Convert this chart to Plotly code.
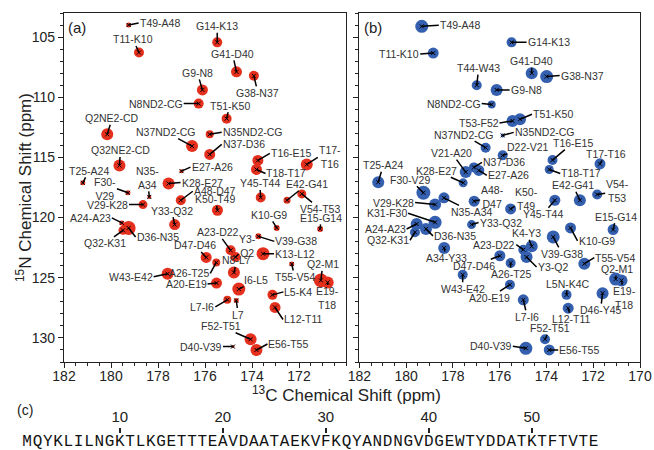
import plotly.graph_objects as go

W, H = 654, 450

# ---------------- data: panel (a) ----------------
a_labels = ["T49-A48", "T11-K10", "G14-K13", "G41-D40", "G38-N37", "G9-N8", "N8ND2-CG", "T51-K50",
            "Q2NE2-CD", "N37ND2-CG", "N35ND2-CG", "N37-D36", "Q32NE2-CD", "T25-A24", "E27-A26",
            "T16-E15", "T18-T17", "T17-<br>T16", "N35-<br>A34", "F30-<br>V29", "K28-E27", "Y45-T44",
            "E42-G41", "A48-D47", "K50-T49", "V54-T53", "V29-K28", "Y33-Q32", "K10-G9", "E15-G14",
            "A24-A23", "D36-N35", "Q32-K31", "A23-D22", "Y3-<br>Q2", "V39-G38", "K13-L12", "D47-D46",
            "N8-L7", "A26-T25", "W43-E42", "A20-E19", "I6-L5", "T55-V54", "Q2-M1", "E19-<br>T18",
            "L5-K4", "L7-I6", "L7", "L12-T11", "F52-T51", "D40-V39", "E56-T55"]
a_c13 = [179.25, 178.81, 175.48, 174.66, 173.92, 176.11, 176.27, 175.08,
         180.16, 176.55, 175.80, 175.80, 179.64, 181.20, 177.00,
         173.75, 173.81, 171.67, 178.37, 179.28, 177.55, 173.63,
         172.51, 177.03, 175.47, 171.88, 178.64, 177.29, 172.95, 171.10,
         179.54, 179.25, 179.49, 174.91, 174.70, 173.73, 173.53, 175.95,
         174.77, 175.52, 177.59, 175.51, 174.56, 172.31, 171.07, 170.78,
         173.13, 175.05, 174.67, 173.02, 174.06, 174.81, 173.81]
a_n15 = [104.00, 106.28, 105.44, 107.89, 108.22, 109.39, 110.53, 111.78,
         113.08, 114.06, 113.08, 114.75, 115.67, 117.11, 116.14,
         115.25, 116.00, 115.58, 118.28, 117.94, 117.17, 118.33,
         118.56, 118.56, 119.39, 118.03, 118.92, 120.58, 120.86, 120.94,
         120.44, 120.86, 121.06, 122.72, 123.28, 121.56, 123.00, 123.31,
         124.56, 123.73, 124.67, 125.44, 125.94, 123.86, 125.22, 125.39,
         126.42, 126.83, 126.89, 127.47, 130.11, 130.72, 131.00]

# ---------------- data: panel (b) ----------------
b_labels = ["T49-A48", "G14-K13", "T11-K10", "G41-D40", "G38-N37", "T44-W43", "G9-N8", "N8ND2-CG",
            "T53-F52", "T51-K50", "N35ND2-CG", "N37ND2-CG", "D22-V21", "T16-E15", "T17-T16",
            "T18-T17", "V21-A20", "N37-D36", "E27-A26", "K28-E27", "T25-A24", "F30-V29", "V29-K28",
            "N35-A34", "A48-<br>D47", "K50-<br>T49", "E42-G41", "Y45-T44", "V54-<br>T53", "K31-F30",
            "Y33-Q32", "E15-G14", "K10-G9", "A24-A23", "Q32-K31", "D36-N35", "K4-Y3", "V39-G38",
            "A23-D22", "A34-Y33", "D47-D46", "A26-T25", "Y3-Q2", "T55-V54", "Q2-M1", "E19-<br>T18",
            "W43-E42", "A20-E19", "L5N-K4C", "D46-Y45", "L7-I6", "L12-T11", "F52-T51", "D40-V39",
            "E56-T55"]
b_c13 = [179.33, 175.49, 178.84, 174.63, 173.99, 176.98, 176.13, 176.34,
         175.45, 175.13, 175.87, 176.60, 175.87, 173.74, 171.71,
         173.88, 177.45, 177.10, 176.89, 177.56, 181.19, 179.26, 178.76,
         178.38, 177.09, 175.53, 172.57, 173.64, 171.83, 178.76,
         177.20, 171.15, 172.97, 179.55, 179.62, 179.15, 174.63, 173.71,
         174.99, 178.37, 175.99, 175.53, 174.85, 172.38, 171.04, 170.79,
         177.58, 175.56, 173.14, 171.60, 174.99, 173.07, 174.06, 174.88,
         173.88]
b_n15 = [104.11, 105.44, 106.33, 108.00, 108.28, 109.00, 109.39, 110.61,
         111.97, 111.83, 113.17, 114.19, 114.83, 115.22, 115.53,
         116.00, 116.22, 115.83, 116.08, 117.11, 117.06, 117.94, 118.92,
         118.36, 118.64, 119.28, 118.56, 118.56, 118.08, 120.39,
         120.58, 121.00, 120.86, 120.53, 121.22, 120.94, 122.39, 121.61,
         122.67, 122.53, 123.17, 123.78, 123.28, 123.83, 125.11, 125.22,
         124.75, 125.58, 126.42, 126.28, 126.83, 127.53, 130.11, 130.86,
         131.00]

# ---------------- data: panel (c) ----------------
sequence = "MQYKLILNGKTLKGETTTEAVDAATAEKVFKQYANDNGVDGEWTYDDATKTFTVTE"
seq_ticks = [10, 20, 30, 40, 50]

c_ticks = [182, 180, 178, 176, 174, 172, 170]
n_ticks = [105, 110, 115, 120, 125, 130]

# ---------------- styles (blob sizes, label offsets px, anchor) ----------------
a_size = [5, 10, 10, 11, 10, 11, 10, 10, 12, 12, 8, 11, 12, 5, 4, 11, 11, 12, 4, 5, 12, 10,
          7, 10, 11, 9, 9, 11, 6, 6, 5, 14, 9, 10, 10, 6, 13, 11, 12, 8, 12, 11, 13, 5, 14, 12,
          10, 8, 5, 11, 12, 3, 12]
a_lab = [(10, -2, "l"), (-6, -13, "c"), (0, -16, "c"), (-4, -18, "c"), (4, 17, "c"), (-5, -17, "c"),
         (-15, 0, "r"), (3, -13, "c"), (5, -16, "c"), (-26, -14, "c"), (12, -2, "l"), (12, -10, "l"),
         (1, -15, "c"), (6, -12, "c"), (9, -4, "l"), (12, -7, "l"), (9, 4, "l"), (11, -7, "l"),
         (-2, -19, "c"), (-11, -4, "r"), (12, -1, "l"), (-1, -14, "c"), (20, -16, "c"), (12, -9, "l"),
         (-2, -11, "c"), (18, 15, "c"), (-14, 0, "r"), (-3, -14, "c"), (-8, -13, "c"), (1, -11, "c"),
         (-10, -5, "r"), (7, 9, "l"), (-18, 13, "c"), (-13, -18, "c"), (12, -11, "c"), (16, 5, "l"),
         (11, 0, "l"), (-11, -12, "c"), (3, -12, "c"), (-6, 11, "r"), (-14, 3, "r"), (-9, 1, "r"),
         (17, -9, "c"), (3, 13, "c"), (2, -16, "c"), (0, 16, "c"), (11, -3, "l"), (-12, 7, "r"),
         (2, 14, "c"), (8, 12, "l"), (-30, -13, "c"), (-10, 0, "r"), (11, -6, "l")]

b_size = [13, 10, 11, 12, 13, 10, 12, 8, 12, 12, 4, 10, 10, 10, 11, 9, 12, 10, 11, 9, 12, 14, 12,
          11, 11, 11, 12, 11, 10, 13, 9, 11, 11, 12, 10, 12, 12, 13, 10, 12, 11, 10, 12, 12, 13, 12,
          10, 10, 10, 12, 11, 11, 10, 13, 11]
b_lab = [(17, -1, "l"), (15, 0, "l"), (-13, 1, "r"), (0, -12, "c"), (13, -1, "l"), (2, -17, "c"),
         (13, 0, "l"), (-10, -1, "r"), (-13, 2, "r"), (12, -5, "l"), (11, -3, "l"), (-22, -13, "c"),
         (25, -8, "c"), (20, -17, "c"), (6, -10, "c"), (11, 4, "l"), (-14, -19, "c"), (8, -5, "l"),
         (8, 5, "l"), (-27, -12, "c"), (5, -17, "c"), (-13, -13, "c"), (-20, -2, "r"), (28, 14, "c"),
         (18, -4, "c"), (16, -10, "c"), (-7, -15, "c"), (-12, 14, "c"), (20, -3, "c"), (-27, -9, "r"),
         (7, -2, "l"), (3, -13, "c"), (7, 13, "l"), (-10, 5, "r"), (-5, 8, "r"), (7, 7, "l"),
         (-5, -13, "c"), (9, 17, "c"), (-7, -5, "r"), (2, 10, "c"), (-26, 10, "c"), (0, 11, "c"),
         (10, 10, "l"), (10, -6, "l"), (1, -10, "c"), (3, 18, "c"), (0, 14, "c"), (-20, 13, "c"),
         (1, -11, "c"), (-2, 17, "c"), (4, 17, "c"), (3, 11, "c"), (5, -11, "c"), (-13, -2, "r"),
         (9, 0, "l")]

RED = "#e4301c"
BLUE = "#3560b0"
FAM = "Liberation Sans, Arial, sans-serif"
LABEL_FONT = dict(family=FAM, size=10.5, color="#333333")
AX_FONT = dict(family=FAM, size=14, color="#222222")

fig = go.Figure()

def add_panel(xa, ya, cs, ns, sizes, color):
    fig.add_trace(go.Scatter(x=cs, y=ns, mode="markers", xaxis=xa, yaxis=ya,
                             marker=dict(size=sizes, color=color, opacity=1, line=dict(width=0)),
                             hoverinfo="skip", showlegend=False))
    fig.add_trace(go.Scatter(x=cs, y=ns, mode="markers", xaxis=xa, yaxis=ya,
                             marker=dict(symbol="x-thin", size=4, line=dict(width=1, color="black")),
                             hoverinfo="skip", showlegend=False))

add_panel("x", "y", a_c13, a_n15, a_size, RED)
add_panel("x2", "y2", b_c13, b_n15, b_size, BLUE)

anchor_map = {"l": "left", "r": "right", "c": "center"}
for labels, cs, ns, labs, xr_, yr_ in [(a_labels, a_c13, a_n15, a_lab, "x", "y"),
                                        (b_labels, b_c13, b_n15, b_lab, "x2", "y2")]:
    for t, c, n, (ax, ay, anc) in zip(labels, cs, ns, labs):
        fig.add_annotation(x=c, y=n, xref=xr_, yref=yr_, text=t, showarrow=True,
                           arrowhead=0, arrowwidth=1.5, arrowcolor="black",
                           ax=ax, ay=ay, xanchor=anchor_map[anc], yanchor="middle",
                           font=LABEL_FONT, borderpad=0, standoff=0)

# sequence as text on its own axis
fig.add_trace(go.Scatter(x=list(range(1, len(sequence) + 1)), y=[0] * len(sequence),
                         mode="text", text=list(sequence), xaxis="x3", yaxis="y3",
                         textfont=dict(family="Liberation Mono, Courier New, monospace", size=16,
                                       color="#111111"),
                         hoverinfo="skip", showlegend=False))

yr = [132, 103]
xr = [182, 170]
common_x = dict(range=xr, ticks="outside", ticklen=5, tickwidth=1, automargin=False,
                tickcolor="#222", showline=True, linecolor="#222", linewidth=1.2, mirror=True,
                showgrid=False, zeroline=False, tickfont=AX_FONT, ticklabelstandoff=-4,
                minor=dict(dtick=0.5, tick0=170, ticks="outside", ticklen=3, tickcolor="#222",
                           showgrid=False))
common_y = dict(range=yr, tickvals=n_ticks, ticks="outside", ticklen=5, tickwidth=1,
                automargin=False,
                tickcolor="#222", showline=True, linecolor="#222", linewidth=1.2, mirror=True,
                showgrid=False, zeroline=False, tickfont=AX_FONT,
                minor=dict(dtick=1, tick0=100, ticks="outside", ticklen=3, tickcolor="#222",
                           showgrid=False))

fig.update_layout(
    template="none",
    width=W, height=H, margin=dict(l=0, r=0, t=0, b=0, autoexpand=False),
    paper_bgcolor="white", plot_bgcolor="white", showlegend=False,
    xaxis=dict(domain=[64 / W, 346 / W], anchor="y", tickvals=c_ticks[:-1], **common_x),
    yaxis=dict(domain=[1 - 362 / H, 1 - 13 / H], anchor="x", **common_y),
    xaxis2=dict(domain=[359.3 / W, 640 / W], anchor="y2", tickvals=c_ticks, **common_x),
    yaxis2=dict(domain=[1 - 362 / H, 1 - 13 / H], anchor="x2", showticklabels=False, **common_y),
    xaxis3=dict(domain=[22 / W, (22 + 56 * 10.3) / W], range=[0.5, 56.5], anchor="y3",
                side="top", tickvals=seq_ticks, ticks="outside", ticklen=5, tickwidth=1.5,
                automargin=False,
                tickcolor="#222", showline=False, showgrid=False, zeroline=False,
                tickfont=dict(family=FAM, size=15, color="#222")),
    yaxis3=dict(domain=[0, 1 - 434 / H], range=[-1, 1], anchor="x3", visible=False,
                automargin=False),
)

# axis titles and panel labels
def paper_text(t, px, py, size, angle=0):
    fig.add_annotation(x=px / W, y=1 - py / H, xref="paper", yref="paper", showarrow=False,
                       text=t, textangle=angle, xanchor="center", yanchor="middle",
                       font=dict(family=FAM, size=size, color="#222"))

paper_text("<sup>15</sup>N Chemical Shift (ppm)", 24, 188, 17, -90)
paper_text("<sup>13</sup>C Chemical Shift (ppm)", 346, 394, 17)
paper_text("(a)", 77, 27, 15)
paper_text("(b)", 373, 27, 15)
paper_text("(c)", 25, 410, 14)

fig.write_html("out.html", config={"displayModeBar": False, "staticPlot": True},
               post_script="document.body.style.margin='0';")
